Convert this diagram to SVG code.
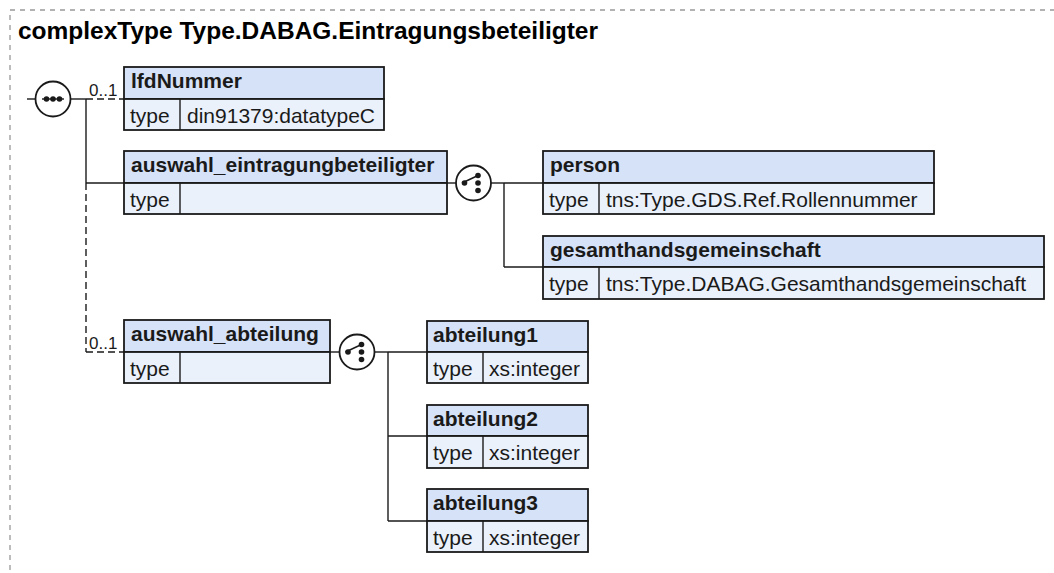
<svg xmlns="http://www.w3.org/2000/svg" width="1054" height="573" viewBox="0 0 1054 573">
<style>
.frame{fill:none;stroke:#999;stroke-width:1.3;stroke-dasharray:5 5}
.title{font-family:"Liberation Sans",Arial,sans-serif;font-weight:bold;font-size:23px;fill:#000}
.hd{fill:#d6e2f7;stroke:#1a1a1a;stroke-width:1.8}
.bd{fill:#eaf1fb;stroke:#1a1a1a;stroke-width:1.8}
.nm{font-family:"Liberation Sans",Arial,sans-serif;font-weight:bold;font-size:21px;fill:#1a1a1a}
.tx{font-family:"Liberation Sans",Arial,sans-serif;font-size:21px;fill:#1a1a1a}
.occ{font-family:"Liberation Sans",Arial,sans-serif;font-size:17px;fill:#1a1a1a}
.ln{fill:none;stroke:#1a1a1a;stroke-width:1.4}
.dl{fill:none;stroke:#1a1a1a;stroke-width:1.4;stroke-dasharray:7 4}
.cc{fill:#fff;stroke:#1a1a1a;stroke-width:1.8}
.dot{fill:#1a1a1a}
</style>
<rect class="frame" x="10" y="10" width="1060" height="580"/>
<text class="title" x="18" y="39" textLength="580" lengthAdjust="spacingAndGlyphs">complexType Type.DABAG.Eintragungsbeteiligter</text>

<g id="connectors">
<line class="ln" x1="27" y1="99" x2="35.5" y2="99"/>
<line class="ln" x1="70.5" y1="99" x2="86" y2="99"/>
<line class="ln" x1="86" y1="99" x2="86" y2="183"/>
<line class="dl" x1="86" y1="99" x2="124" y2="99"/>
<line class="ln" x1="86" y1="183" x2="124" y2="183"/>
<line class="dl" x1="86" y1="183" x2="86" y2="352"/>
<line class="dl" x1="86" y1="352" x2="124" y2="352"/>
<line class="ln" x1="447" y1="183" x2="456" y2="183"/>
<line class="ln" x1="491" y1="183" x2="504" y2="183"/>
<line class="ln" x1="504" y1="183" x2="504" y2="267"/>
<line class="ln" x1="504" y1="183" x2="543" y2="183"/>
<line class="ln" x1="504" y1="267" x2="543" y2="267"/>
<line class="ln" x1="330" y1="352" x2="339.5" y2="352"/>
<line class="ln" x1="374.5" y1="352" x2="388" y2="352"/>
<line class="ln" x1="388" y1="352" x2="388" y2="521"/>
<line class="ln" x1="388" y1="352" x2="427" y2="352"/>
<line class="ln" x1="388" y1="436" x2="427" y2="436"/>
<line class="ln" x1="388" y1="521" x2="427" y2="521"/>
<text class="occ" x="89" y="96">0..1</text>
<text class="occ" x="89" y="349">0..1</text>
</g>

<g id="sequence">
<circle class="cc" cx="53" cy="99" r="17.5"/>
<line class="ln" x1="42" y1="99" x2="64" y2="99"/>
<circle class="dot" cx="46.5" cy="99" r="2.8"/>
<circle class="dot" cx="53" cy="99" r="2.8"/>
<circle class="dot" cx="59.5" cy="99" r="2.8"/>
</g>

<g id="lfdNummer">
<rect class="hd" x="124" y="67" width="260" height="32"/>
<rect class="bd" x="124" y="99" width="260" height="31"/>
<line class="ln" x1="180" y1="99" x2="180" y2="130"/>
<text class="nm" x="131" y="88">lfdNummer</text>
<text class="tx" x="130" y="123">type</text>
<text class="tx" x="187" y="123">din91379:datatypeC</text>
</g>

<g id="auswahl_eintragungbeteiligter">
<rect class="hd" x="124" y="151" width="323" height="32"/>
<rect class="bd" x="124" y="183" width="323" height="31"/>
<line class="ln" x1="180" y1="183" x2="180" y2="214"/>
<text class="nm" x="131" y="172">auswahl_eintragungbeteiligter</text>
<text class="tx" x="130" y="207">type</text>
</g>

<g id="choice1">
<circle class="cc" cx="473.5" cy="183" r="17.5"/>
<line class="ln" x1="462" y1="183" x2="478" y2="175.5"/>
<circle class="dot" cx="464.5" cy="183" r="2.8"/>
<circle class="dot" cx="478" cy="175.5" r="2.8"/>
<circle class="dot" cx="478" cy="183" r="2.8"/>
<circle class="dot" cx="478" cy="190.5" r="2.8"/>
</g>

<g id="person">
<rect class="hd" x="543" y="151" width="391" height="32"/>
<rect class="bd" x="543" y="183" width="391" height="31"/>
<line class="ln" x1="599" y1="183" x2="599" y2="214"/>
<text class="nm" x="550" y="172">person</text>
<text class="tx" x="549" y="207">type</text>
<text class="tx" x="606" y="207">tns:Type.GDS.Ref.Rollennummer</text>
</g>

<g id="gesamthandsgemeinschaft">
<rect class="hd" x="543" y="236" width="501" height="31"/>
<rect class="bd" x="543" y="267" width="501" height="32"/>
<line class="ln" x1="599" y1="267" x2="599" y2="299"/>
<text class="nm" x="550" y="257">gesamthandsgemeinschaft</text>
<text class="tx" x="549" y="291">type</text>
<text class="tx" x="606" y="291">tns:Type.DABAG.Gesamthandsgemeinschaft</text>
</g>

<g id="auswahl_abteilung">
<rect class="hd" x="124" y="320" width="206" height="32"/>
<rect class="bd" x="124" y="352" width="206" height="31"/>
<line class="ln" x1="180" y1="352" x2="180" y2="383"/>
<text class="nm" x="131" y="341">auswahl_abteilung</text>
<text class="tx" x="130" y="376">type</text>
</g>

<g id="choice2">
<circle class="cc" cx="357" cy="352" r="17.5"/>
<line class="ln" x1="345.5" y1="352" x2="361.5" y2="344.5"/>
<circle class="dot" cx="348" cy="352" r="2.8"/>
<circle class="dot" cx="361.5" cy="344.5" r="2.8"/>
<circle class="dot" cx="361.5" cy="352" r="2.8"/>
<circle class="dot" cx="361.5" cy="359.5" r="2.8"/>
</g>

<g id="abteilung1">
<rect class="hd" x="427" y="321" width="161" height="31"/>
<rect class="bd" x="427" y="352" width="161" height="31"/>
<line class="ln" x1="483" y1="352" x2="483" y2="383"/>
<text class="nm" x="433" y="342">abteilung1</text>
<text class="tx" x="433" y="376">type</text>
<text class="tx" x="489" y="376">xs:integer</text>
</g>

<g id="abteilung2">
<rect class="hd" x="427" y="405" width="161" height="31"/>
<rect class="bd" x="427" y="436" width="161" height="32"/>
<line class="ln" x1="483" y1="436" x2="483" y2="468"/>
<text class="nm" x="433" y="426">abteilung2</text>
<text class="tx" x="433" y="460">type</text>
<text class="tx" x="489" y="460">xs:integer</text>
</g>

<g id="abteilung3">
<rect class="hd" x="427" y="489" width="161" height="32"/>
<rect class="bd" x="427" y="521" width="161" height="31"/>
<line class="ln" x1="483" y1="521" x2="483" y2="552"/>
<text class="nm" x="433" y="510">abteilung3</text>
<text class="tx" x="433" y="545">type</text>
<text class="tx" x="489" y="545">xs:integer</text>
</g>
</svg>
